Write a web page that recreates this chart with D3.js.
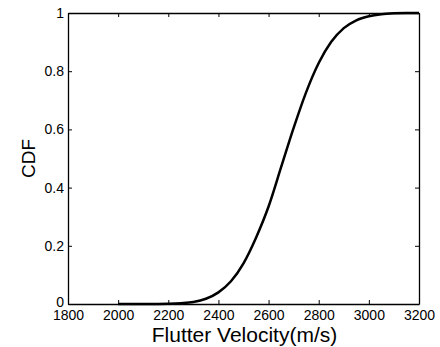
<!DOCTYPE html>
<html>
<head>
<meta charset="utf-8">
<script src="https://cdn.jsdelivr.net/npm/d3@7"></script>
<style>
  body { margin: 0; background: #fff; }
  text { font-family: "Liberation Sans", Arial, sans-serif; fill: #000; }
</style>
</head>
<body>
<div id="chart"></div>
<script>
// values
const velocity = [2000, 2050, 2100, 2150, 2200, 2250, 2300, 2350, 2400, 2450, 2500, 2550,
  2600, 2650, 2700, 2750, 2800, 2850, 2900, 2950, 3000, 3050, 3100, 3150, 3200];
const cdf = [0, 0, 0, 0.0003, 0.001, 0.003, 0.007, 0.018, 0.04, 0.078, 0.14, 0.228,
  0.335, 0.47, 0.605, 0.728, 0.828, 0.901, 0.948, 0.975, 0.989, 0.996, 0.999, 1, 1];
const xTicks = [1800, 2000, 2200, 2400, 2600, 2800, 3000, 3200];
const yTicks = [0, 0.2, 0.4, 0.6, 0.8, 1];

const W = 440, H = 347;
const m = {left: 68, right: 21, top: 13, bottom: 43};

const svg = d3.select("#chart").append("svg")
  .attr("width", W).attr("height", H);

const x = d3.scaleLinear().domain([1800, 3200]).range([m.left, W - m.right]);
const y = d3.scaleLinear().domain([0, 1]).range([H - m.bottom, m.top]);

const g = svg.append("g");

// curve
const line = d3.line()
  .x((d, i) => x(velocity[i]))
  .y(d => y(d))
  .curve(d3.curveMonotoneX);

g.append("path")
  .datum(cdf)
  .attr("d", line)
  .attr("fill", "none")
  .attr("stroke", "#000")
  .attr("stroke-width", 2.5);

// axes, ticks inward, box mirrored
const tk = 4;
const axBottom = g.append("g").attr("transform", `translate(0,${y(0)})`)
  .call(d3.axisBottom(x).tickValues(xTicks).tickSizeInner(-tk).tickSizeOuter(0).tickPadding(6).tickFormat(d3.format("d")));
const axLeft = g.append("g").attr("transform", `translate(${x(1800)},0)`)
  .call(d3.axisLeft(y).tickValues(yTicks).tickSizeInner(-tk).tickSizeOuter(0).tickPadding(4).tickFormat(d => d === 0 || d === 1 ? d3.format("d")(d) : d3.format(".1f")(d)));
const axTop = g.append("g").attr("transform", `translate(0,${y(1)})`)
  .call(d3.axisTop(x).tickValues(xTicks).tickSizeInner(-tk).tickSizeOuter(0).tickFormat(""));
const axRight = g.append("g").attr("transform", `translate(${x(3200)},0)`)
  .call(d3.axisRight(y).tickValues(yTicks).tickSizeInner(-tk).tickSizeOuter(0).tickFormat(""));

[axBottom, axLeft, axTop, axRight].forEach(a => {
  a.select(".domain").attr("stroke", "#000").attr("stroke-width", 1.3);
  a.selectAll(".tick line").attr("stroke", "#000");
  a.selectAll("text").style("font-size", "14px").attr("fill", "#000");
});
axBottom.selectAll("text").attr("dy", "0.71em");
axLeft.selectAll("text").filter(d => d === 0).attr("dy", "0.2em");

// labels
svg.append("text")
  .attr("x", (x(1800) + x(3200)) / 2 + 1)
  .attr("y", 342)
  .attr("text-anchor", "middle")
  .style("font-size", "21px")
  .text("Flutter Velocity(m/s)");

svg.append("text")
  .attr("transform", `translate(35,${(y(0) + y(1)) / 2}) rotate(-90)`)
  .attr("text-anchor", "middle")
  .style("font-size", "19px")
  .text("CDF");
</script>
</body>
</html>
